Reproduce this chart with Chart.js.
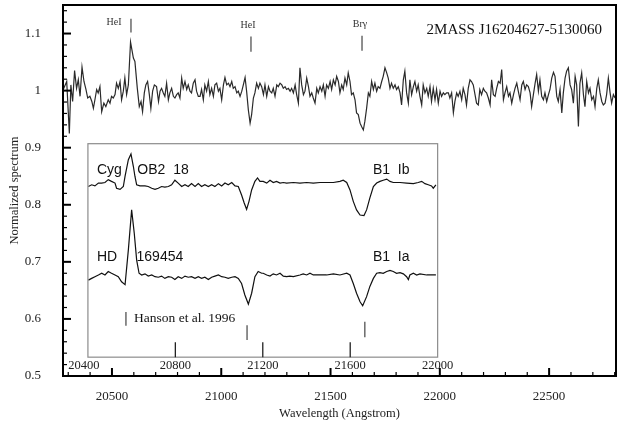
<!DOCTYPE html>
<html>
<head>
<meta charset="utf-8">
<script src="https://cdn.jsdelivr.net/npm/chart.js@4.4.0/dist/chart.umd.min.js"></script>
<style>
  body { margin: 0; background: #fff; }
  #wrapper { width: 623px; height: 425px; }
</style>
</head>
<body>
<div id="wrapper"><canvas id="chart" width="623" height="425"></canvas></div>
<script>
// observed spectrum: [wavelength (A), normalized flux]
const mainSpectrum = [
  [20277,1.002],[20293,1.016],[20305,0.925],[20312,1.010],[20320,0.981],[20329,1.035],[20338,1.004],[20346,1.019],
  [20354,0.990],[20363,1.041],[20372,1.016],[20381,1.002],[20389,0.987],[20399,0.990],[20408,0.981],[20415,0.969],
  [20422,0.984],[20430,1.002],[20437,0.996],[20445,1.007],[20453,0.963],[20463,0.978],[20472,0.972],[20483,0.984],
  [20491,0.978],[20498,0.990],[20506,0.987],[20514,0.993],[20521,1.013],[20529,1.004],[20537,1.016],[20544,0.984],
  [20552,0.999],[20559,1.022],[20567,0.993],[20575,1.010],[20585,1.085],[20598,1.057],[20605,1.051],[20616,1.004],
  [20625,0.972],[20633,0.981],[20640,0.963],[20648,0.996],[20655,1.010],[20663,1.016],[20671,0.993],[20678,0.969],
  [20686,0.999],[20694,1.010],[20704,1.007],[20713,0.981],[20720,0.999],[20727,1.004],[20735,0.996],[20742,0.990],
  [20750,1.013],[20758,0.984],[20765,0.996],[20773,1.004],[20781,0.990],[20788,0.987],[20796,0.993],[20803,0.996],
  [20811,0.987],[20819,1.022],[20826,1.004],[20834,1.016],[20842,1.002],[20849,1.010],[20857,0.999],[20864,0.996],
  [20872,1.013],[20880,1.019],[20887,0.999],[20895,0.990],
  [20903,0.990],[20910,1.002],[20918,0.984],[20925,1.010],[20933,0.999],[20941,1.016],[20948,0.993],[20956,1.004],
  [20964,0.990],[20971,1.010],[20979,1.013],[20987,0.999],[20994,1.004],[21002,0.984],[21010,1.010],[21017,1.023],
  [21025,1.010],[21033,1.013],[21040,1.007],[21048,1.016],[21055,1.004],[21063,1.007],[21071,0.996],[21078,0.999],
  [21086,0.990],[21094,0.999],[21101,1.010],[21109,1.023],[21116,0.999],[21124,0.966],[21132,0.943],[21139,0.958],
  [21147,0.987],[21154,0.996],[21162,1.013],[21170,1.004],[21177,1.013],[21185,1.007],[21193,0.993],[21200,1.010],
  [21208,0.990],[21216,1.007],[21223,0.999],[21231,0.996],[21238,1.004],[21246,0.990],[21254,1.010],[21261,1.007],
  [21269,1.013],[21277,1.010],[21284,1.004],[21292,1.007],[21299,1.002],[21307,1.004],[21315,0.999],[21322,1.004],
  [21330,0.996],[21338,1.010],[21345,0.993],[21353,0.978],[21360,1.040],[21368,1.010],[21376,0.993],[21383,0.999],
  [21391,1.022],[21399,1.007],[21406,0.990],[21414,0.996],[21421,0.987],[21429,0.978],[21437,1.004],[21444,0.996],
  [21452,1.007],[21460,0.999],[21467,1.010],[21475,0.990],[21482,1.010],[21490,1.004],[21498,1.016],[21505,1.002],
  [21513,1.019],[21521,1.010],[21528,1.025],[21536,1.016],[21543,0.996],
  [21551,1.010],[21558,1.002],[21566,1.022],[21574,1.010],[21581,1.031],[21589,1.016],[21596,0.993],[21604,0.996],
  [21612,0.984],[21619,0.961],[21627,0.958],[21635,0.943],[21642,0.937],[21650,0.931],[21657,0.946],[21665,0.969],
  [21673,0.996],[21680,0.990],[21688,1.016],[21696,1.002],[21703,1.013],[21711,0.999],[21718,1.007],[21726,1.004],
  [21734,1.016],[21741,1.025],[21749,1.040],[21757,1.031],[21764,1.022],[21772,1.004],[21779,1.013],[21787,1.004],
  [21795,1.010],[21802,1.002],[21810,1.007],[21818,0.996],[21825,0.975],[21833,1.019],[21840,1.034],[21848,0.996],
  [21856,0.978],[21863,1.019],[21871,0.993],[21879,1.007],[21886,1.016],[21894,0.999],[21901,1.010],[21909,0.990],
  [21917,0.975],[21924,1.010],[21932,0.996],[21940,1.004],[21947,0.990],[21955,1.007],[21962,0.981],[21970,1.004],
  [21978,0.984],[21985,1.002],[21993,0.978],[22001,0.999],[22008,0.990],[22016,0.996],[22023,0.993],[22031,0.996],
  [22039,0.996],[22046,0.987],[22054,0.996],[22062,0.961],[22069,0.981],[22077,0.996],[22084,0.990],[22092,0.999],
  [22100,0.984],[22107,1.004],[22115,0.993],[22122,0.975],[22130,1.004],[22138,1.019],[22145,1.016],[22153,1.010],
  [22161,0.993],[22168,0.978],[22176,0.975],[22183,1.002],[22191,0.993],[22199,1.004],[22206,0.999],
  [22214,0.996],[22222,0.987],[22230,0.975],[22237,1.019],[22245,0.993],[22253,0.990],[22260,1.004],[22268,1.016],
  [22276,1.013],[22283,1.037],[22291,0.984],[22298,0.996],[22306,1.007],[22314,0.990],[22321,0.996],[22329,0.978],
  [22337,0.993],[22344,1.004],[22352,1.013],[22359,0.999],[22367,0.984],[22375,1.010],[22382,1.016],[22390,1.002],
  [22397,1.010],[22405,1.007],[22413,0.996],[22420,0.972],[22428,0.993],[22436,1.013],[22443,1.028],[22451,0.999],
  [22458,1.019],[22466,0.990],[22474,0.984],[22481,0.996],[22489,0.981],[22497,0.993],[22504,1.002],[22512,1.022],
  [22520,1.032],[22527,1.025],[22535,0.990],[22542,0.981],[22550,1.002],[22558,0.961],[22565,0.996],[22573,1.022],
  [22580,1.034],[22588,1.040],[22596,1.010],[22603,1.002],[22611,0.978],[22619,1.025],[22626,1.010],[22634,0.937],
  [22641,1.013],[22649,1.031],[22657,0.993],[22664,0.972],[22672,1.016],[22680,0.996],[22687,1.004],[22695,0.984],
  [22703,0.990],[22710,0.972],[22718,1.004],[22725,1.019],[22733,0.996],[22741,0.981],[22748,0.975],[22756,0.978],
  [22763,0.993],[22771,1.022],[22779,0.996],[22786,0.978],[22794,0.993],[22802,0.987]
];

// Cyg OB2 18 (B1 Ib) template, shifted for the inset
const cygSpectrum = [
  [20392,0.832],[20407,0.835],[20422,0.833],[20438,0.838],[20453,0.838],[20468,0.839],[20483,0.844],[20498,0.841],
  [20514,0.838],[20521,0.829],[20537,0.827],[20552,0.832],[20560,0.850],[20575,0.879],[20587,0.889],[20598,0.867],
  [20605,0.850],[20613,0.835],[20628,0.833],[20651,0.833],[20666,0.832],[20682,0.829],[20697,0.827],[20712,0.829],
  [20727,0.832],[20742,0.831],[20758,0.832],[20773,0.835],[20788,0.843],[20803,0.838],[20819,0.832],[20834,0.835],
  [20849,0.832],[20864,0.837],[20880,0.832],[20895,0.837],[20910,0.832],[20925,0.835],[20941,0.832],[20956,0.835],
  [20971,0.832],[20987,0.837],[21002,0.833],[21017,0.838],[21032,0.835],[21048,0.839],[21063,0.833],[21078,0.832],
  [21093,0.817],[21105,0.803],[21116,0.792],[21127,0.806],[21139,0.826],[21154,0.841],[21166,0.847],[21177,0.841],
  [21192,0.841],[21208,0.838],[21223,0.843],[21238,0.839],[21253,0.841],[21269,0.838],[21284,0.839],[21299,0.838],
  [21330,0.839],[21360,0.838],[21391,0.839],[21421,0.838],[21452,0.839],[21482,0.839],[21513,0.839],[21543,0.841],
  [21558,0.843],[21574,0.839],[21589,0.826],[21604,0.806],[21619,0.791],[21635,0.782],[21653,0.781],[21665,0.791],
  [21680,0.812],[21696,0.832],[21711,0.838],[21726,0.841],[21741,0.843],[21757,0.845],[21772,0.841],[21787,0.839],
  [21818,0.839],[21848,0.838],[21879,0.837],[21901,0.839],[21917,0.841],[21932,0.837],[21947,0.835],[21962,0.833],
  [21970,0.829],[21982,0.835]
];

// HD 169454 (B1 Ia) template, shifted for the inset
const hdSpectrum = [
  [20392,0.668],[20407,0.671],[20422,0.674],[20438,0.677],[20453,0.680],[20468,0.677],[20483,0.683],[20498,0.680],
  [20514,0.677],[20529,0.674],[20544,0.665],[20560,0.660],[20575,0.721],[20590,0.791],[20602,0.750],[20613,0.703],
  [20624,0.680],[20636,0.677],[20651,0.679],[20666,0.675],[20682,0.677],[20697,0.674],[20712,0.673],[20727,0.675],
  [20742,0.671],[20758,0.674],[20773,0.673],[20788,0.669],[20803,0.674],[20819,0.671],[20834,0.675],[20849,0.673],
  [20864,0.674],[20880,0.671],[20895,0.674],[20910,0.671],[20925,0.673],[20941,0.669],[20956,0.673],[20971,0.675],
  [20987,0.677],[21002,0.674],[21017,0.673],[21032,0.671],[21048,0.673],[21063,0.674],[21078,0.671],[21093,0.662],
  [21108,0.642],[21124,0.626],[21139,0.645],[21154,0.674],[21169,0.683],[21185,0.680],
  [21192,0.680],[21208,0.677],[21223,0.675],[21238,0.679],[21253,0.677],[21269,0.680],[21284,0.675],[21299,0.674],
  [21314,0.675],[21330,0.674],[21360,0.677],[21375,0.679],[21391,0.677],[21406,0.680],[21421,0.677],[21452,0.677],
  [21482,0.677],[21513,0.679],[21543,0.677],[21574,0.680],[21589,0.677],[21604,0.662],[21619,0.645],[21635,0.630],
  [21647,0.623],[21665,0.639],[21680,0.657],[21696,0.671],[21711,0.680],[21726,0.681],[21741,0.680],[21757,0.683],
  [21772,0.685],[21787,0.683],[21802,0.680],[21818,0.681],[21833,0.679],[21848,0.674],[21856,0.669],[21863,0.677],
  [21879,0.680],[21894,0.677],[21909,0.679],[21940,0.677],[21982,0.677]
];

const xTicks = [20500, 21000, 21500, 22000, 22500];
const yTicks = [0.5, 0.6, 0.7, 0.8, 0.9, 1.0, 1.1];
const yTickLabels = ['0.5', '0.6', '0.7', '0.8', '0.9', '1', '1.1'];
const insetTicks = [20400, 20800, 21200, 21600, 22000];

// line identifications: [wavelength, y bottom, y top]
const lineNames = ['HeI', 'HeI', 'Br\u03b3'];
const lineMarks = [[20587, 1.102, 1.126], [21136, 1.068, 1.095], [21644, 1.070, 1.096]];
const hansonMarks = [[20564, 0.588, 0.612], [21118, 0.563, 0.589], [21657, 0.568, 0.595]];

const toXY = s => s.map(p => ({x: p[0], y: p[1]}));

const decor = {
  id: 'decor',
  afterDatasetsDraw(chart) {
    const {ctx, chartArea: a, scales: {x, y}} = chart;
    const px = v => x.getPixelForValue(v);
    const py = v => y.getPixelForValue(v);
    ctx.save();

    // inset frame
    const bx0 = px(20390), bx1 = px(21990), by0 = py(0.907), by1 = py(0.533);
    ctx.strokeStyle = '#8c8c8c';
    ctx.lineWidth = 1.2;
    ctx.strokeRect(bx0, by0, bx1 - bx0, by1 - by0);

    // inset axis
    ctx.fillStyle = '#222';
    ctx.strokeStyle = '#222';
    ctx.font = '12.5px "Liberation Serif"';
    ctx.textAlign = 'center';
    ctx.textBaseline = 'middle';
    const t0 = insetTicks[0], t1 = insetTicks[insetTicks.length - 1];
    insetTicks.forEach((t, i) => {
      const tx = bx0 + (t - t0) / (t1 - t0) * (bx1 - bx0);
      if (i > 0 && i < insetTicks.length - 1) {
        ctx.lineWidth = 1.3;
        ctx.beginPath(); ctx.moveTo(tx, by1); ctx.lineTo(tx, by1 - 15); ctx.stroke();
      }
      ctx.fillText(String(t), i === 0 ? tx - 4 : tx, by1 + 9);
    });

    // line marks
    ctx.lineWidth = 1.1;
    ctx.strokeStyle = '#333';
    lineMarks.concat(hansonMarks).forEach(m => {
      ctx.beginPath(); ctx.moveTo(px(m[0]), py(m[1])); ctx.lineTo(px(m[0]), py(m[2])); ctx.stroke();
    });
    ctx.font = '10px "Liberation Serif"';
    ctx.fillStyle = '#333';
    ctx.fillText(lineNames[0], px(lineMarks[0][0]) - 17, py(lineMarks[0][2]) + 4);
    ctx.fillText(lineNames[1], px(lineMarks[1][0]) - 3, py(lineMarks[1][2]) - 11);
    ctx.fillText(lineNames[2], px(lineMarks[2][0]) - 2, py(lineMarks[2][2]) - 11.5);

    // labels
    ctx.fillStyle = '#111';
    ctx.textAlign = 'right';
    ctx.font = '15px "Liberation Serif"';
    ctx.fillText('2MASS J16204627-5130060', a.right - 14, 30);

    ctx.textAlign = 'left';
    ctx.font = '13.5px "Liberation Serif"';
    ctx.fillText('Hanson et al. 1996', px(20601), py(0.600));

    ctx.font = '14px "Liberation Sans"';
    ctx.fillText('Cyg    OB2  18', px(20431), py(0.860));
    ctx.fillText('B1  Ib', px(21694), py(0.861));
    ctx.fillText('HD     169454', px(20431), py(0.709));
    ctx.fillText('B1  Ia', px(21694), py(0.709));

    // frame
    ctx.strokeStyle = '#000';
    ctx.lineWidth = 2;
    ctx.strokeRect(a.left, a.top, a.right - a.left, a.bottom - a.top);

    // inward ticks
    for (let v = 20300; v <= 22800; v += 100) {
      const tx = px(v);
      const major = v % 500 === 0;
      ctx.lineWidth = major ? 2 : 1.2;
      ctx.beginPath(); ctx.moveTo(tx, a.bottom); ctx.lineTo(tx, a.bottom - (major ? 8 : 4)); ctx.stroke();
    }
    for (let k = 25; k <= 57; k++) {
      const ty = py(k * 0.02);
      if (ty < a.top) continue;
      const major = k % 5 === 0;
      ctx.lineWidth = major ? 2 : 1.2;
      ctx.beginPath(); ctx.moveTo(a.left, ty); ctx.lineTo(a.left + (major ? 8 : 4), ty); ctx.stroke();
    }
    ctx.restore();
  }
};

const lineStyle = {fill: false, pointRadius: 0, tension: 0, borderWidth: 1.2};

new Chart('chart', {
  type: 'line',
  data: {
    datasets: [
      Object.assign({label: '2MASS J16204627-5130060', data: toXY(mainSpectrum), borderColor: '#2a2a2a'}, lineStyle),
      Object.assign({label: 'Cyg OB2 18', data: toXY(cygSpectrum), borderColor: '#111'}, lineStyle),
      Object.assign({label: 'HD 169454', data: toXY(hdSpectrum), borderColor: '#111'}, lineStyle)
    ]
  },
  options: {
    responsive: false,
    animation: false,
    layout: {padding: {top: 5, right: 7, left: 0, bottom: 0}},
    plugins: {legend: {display: false}, tooltip: {enabled: false}},
    scales: {
      x: {
        type: 'linear',
        min: 20276,
        max: 22806,
        grid: {display: false},
        border: {display: false},
        afterBuildTicks: s => { s.ticks = xTicks.map(v => ({value: v})); },
        afterFit: s => { s.height = 49; s.paddingLeft = 0; s.paddingRight = 0; },
        ticks: {
          padding: 5,
          color: '#222',
          font: {family: 'Liberation Serif', size: 13},
          callback: v => String(v)
        },
        title: {
          display: true,
          text: 'Wavelength (Angstrom)',
          color: '#222',
          font: {family: 'Liberation Serif', size: 12.5}
        }
      },
      y: {
        min: 0.5,
        max: 1.15,
        grid: {display: false},
        border: {display: false},
        afterBuildTicks: s => { s.ticks = yTicks.map(v => ({value: v})); },
        afterFit: s => { s.width = 63; s.paddingTop = 0; s.paddingBottom = 0; },
        ticks: {
          padding: 14,
          color: '#222',
          font: {family: 'Liberation Serif', size: 13},
          callback: (v, i) => yTickLabels[i]
        },
        title: {
          display: true,
          text: 'Normalized spectrum',
          color: '#222',
          padding: {top: 7, bottom: 4},
          font: {family: 'Liberation Serif', size: 12.5}
        }
      }
    }
  },
  plugins: [decor]
});
</script>
</body>
</html>
